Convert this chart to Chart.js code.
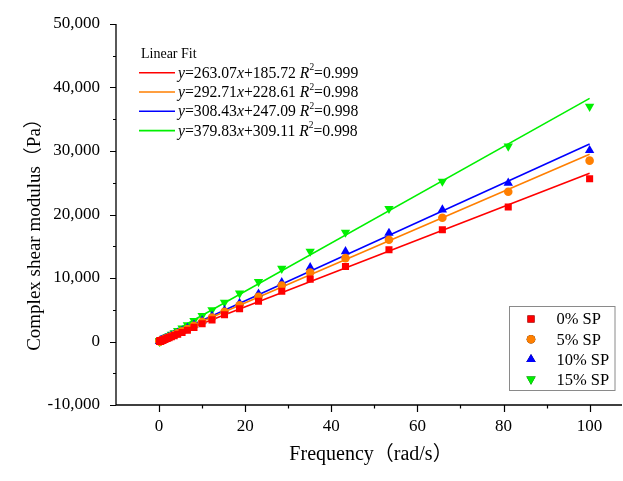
<!DOCTYPE html>
<html><head><meta charset="utf-8">
<script src="https://cdn.jsdelivr.net/npm/chart.js@4.4.1/dist/chart.umd.min.js"></script>
<style>html,body{margin:0;padding:0;background:#fff}#wrap{width:623px;height:481px;position:relative}</style>
</head><body><div id="wrap"><canvas id="c" width="623" height="481"></canvas></div>
<script>
// ---- data ----
const frequency = [0.1, 0.123, 0.152, 0.187, 0.231, 0.285, 0.351, 0.433, 0.534, 0.658, 0.811, 1.0, 1.23, 1.52, 1.87, 2.31, 2.85, 3.51, 4.33, 5.34, 6.58, 8.11, 10.0, 12.3, 15.2, 18.7, 23.1, 28.5, 35.1, 43.3, 53.4, 65.8, 81.1, 100];
const sp0  = [25, 31, 38, 47, 58, 72, 89, 110, 136, 168, 208, 258, 320, 395, 490, 605, 750, 930, 1150, 1430, 1780, 2230, 2790, 3400, 4200, 5150, 6350, 7900, 9820, 11810, 14440, 17600, 21180, 25640];
const sp5  = [28, 34, 42, 52, 64, 80, 99, 122, 151, 187, 231, 287, 356, 440, 545, 672, 835, 1035, 1280, 1590, 1980, 2480, 3100, 3780, 4670, 5720, 7050, 8800, 10860, 13130, 16020, 19490, 23590, 28480];
const sp10 = [29, 36, 44, 55, 68, 84, 104, 129, 159, 197, 244, 303, 376, 465, 575, 710, 880, 1090, 1350, 1680, 2090, 2620, 3270, 3990, 4930, 6050, 7500, 9300, 11650, 14180, 17080, 20750, 24960, 30100];
const sp15 = [35, 43, 53, 66, 82, 102, 127, 157, 195, 242, 300, 373, 463, 575, 712, 882, 1095, 1360, 1690, 2100, 2620, 3260, 4050, 4970, 6150, 7600, 9400, 11500, 14180, 17170, 20910, 25210, 30740, 37000];
const seriesNames = ['0% SP', '5% SP', '10% SP', '15% SP'];
const fitSlopes = [263.07, 292.71, 308.43, 379.83];
const fitIntercepts = [185.72, 228.61, 247.09, 309.11];
const fitSlopeText = ['263.07', '292.71', '308.43', '379.83'];
const fitInterceptText = ['185.72', '228.61', '247.09', '309.11'];
const fitR2 = ['0.999', '0.998', '0.998', '0.998'];
const fitRange = [0, 100];
const xTickValues = [0, 20, 40, 60, 80, 100];
const yTickValues = [-10000, 0, 10000, 20000, 30000, 40000, 50000];
const xMinorValues = [10, 30, 50, 70, 90];
const yMinorValues = [-5000, 5000, 15000, 25000, 35000, 45000];

// ---- styles ----
const colors = ['#ff0000', '#ff7f00', '#0000ff', '#00f000'];
const styles = [
  {pointStyle: 'rect', radius: 5, rotation: 0},
  {pointStyle: 'circle', radius: 4.3, rotation: 0},
  {pointStyle: 'triangle', radius: 5.4, rotation: 0},
  {pointStyle: 'triangle', radius: 5.4, rotation: 180}
];
const SERIF = '"Liberation Serif", "Times New Roman", "Noto Sans CJK SC", serif';

const seriesValues = [sp0, sp5, sp10, sp15];
const datasets = [];
seriesValues.forEach((vals, i) => {
  datasets.push({
    type: 'scatter', label: seriesNames[i],
    data: frequency.map((f, k) => ({x: f, y: vals[k]})),
    backgroundColor: colors[i], borderColor: colors[i], borderWidth: 0,
    pointStyle: styles[i].pointStyle, pointRadius: styles[i].radius, pointRotation: styles[i].rotation,
    pointHoverRadius: styles[i].radius, order: 0
  });
});
seriesValues.forEach((vals, i) => {
  datasets.push({
    type: 'line', label: 'fit ' + seriesNames[i],
    data: fitRange.map(x => ({x: x, y: fitSlopes[i] * x + fitIntercepts[i]})),
    borderColor: colors[i], borderWidth: 1.6, pointRadius: 0, fill: false, order: 1
  });
});

function drawStyledText(ctx, parts, x, y, size) {
  let cx = x;
  parts.forEach(p => {
    const s = p.sup ? size * 0.6 : size;
    ctx.font = (p.it ? 'italic ' : '') + s + 'px ' + SERIF;
    const yy = p.sup ? y - size * 0.38 : y;
    ctx.fillText(p.t, cx, yy);
    cx += ctx.measureText(p.t).width;
  });
}

const decor = {
  id: 'decor',
  afterDraw(chart) {
    const ctx = chart.ctx, a = chart.chartArea;
    const xs = chart.scales.x, ys = chart.scales.y;
    ctx.save();
    ctx.strokeStyle = '#000'; ctx.lineWidth = 1.3;
    // axes
    ctx.beginPath();
    ctx.moveTo(a.left, a.top); ctx.lineTo(a.left, a.bottom);
    ctx.moveTo(a.left, a.bottom); ctx.lineTo(622, a.bottom);
    ctx.stroke();
    ctx.lineWidth = 1.2;
    ctx.beginPath();
    yTickValues.forEach(v => { const p = Math.round(ys.getPixelForValue(v)) + 0.5; ctx.moveTo(a.left - 6, p); ctx.lineTo(a.left, p); });
    yMinorValues.forEach(v => { const p = Math.round(ys.getPixelForValue(v)) + 0.5; ctx.moveTo(a.left - 3, p); ctx.lineTo(a.left, p); });
    xTickValues.forEach(v => { const p = Math.round(xs.getPixelForValue(v)) + 0.5; ctx.moveTo(p, a.bottom); ctx.lineTo(p, a.bottom + 7); });
    xMinorValues.forEach(v => { const p = Math.round(xs.getPixelForValue(v)) + 0.5; ctx.moveTo(p, a.bottom); ctx.lineTo(p, a.bottom + 3.5); });
    ctx.stroke();

    // axis titles
    ctx.fillStyle = '#000';
    ctx.textBaseline = 'middle'; ctx.textAlign = 'center';
    ctx.font = '20px ' + SERIF;
    ctx.fillText('Frequency（rad/s）', 371, 455);
    ctx.save();
    ctx.translate(35, 230); ctx.rotate(-Math.PI / 2);
    ctx.font = '19px ' + SERIF;
    ctx.fillText('Complex shear modulus（Pa）', 0, 0);
    ctx.restore();

    // fit legend
    ctx.textAlign = 'left'; ctx.textBaseline = 'middle';
    ctx.font = '14px ' + SERIF;
    ctx.fillText('Linear Fit', 141, 54);
    const rowY = [72.7, 92, 111.3, 130.6];
    for (let i = 0; i < 4; i++) {
      ctx.strokeStyle = colors[i]; ctx.lineWidth = 1.6;
      ctx.beginPath(); ctx.moveTo(139, rowY[i]); ctx.lineTo(175, rowY[i]); ctx.stroke();
      drawStyledText(ctx, [
        {t: 'y', it: true}, {t: '=' + fitSlopeText[i]}, {t: 'x', it: true},
        {t: '+' + fitInterceptText[i] + ' '}, {t: 'R', it: true}, {t: '2', sup: true}, {t: '=' + fitR2[i]}
      ], 178, rowY[i] + 1, 15.7);
    }

    // marker legend
    ctx.strokeStyle = '#8a8a8a'; ctx.lineWidth = 1;
    ctx.strokeRect(509.5, 306.5, 105.5, 84);
    const lgY = [319, 339.3, 359.3, 379.3];
    for (let i = 0; i < 4; i++) {
      Chart.helpers.drawPoint(ctx, {pointStyle: styles[i].pointStyle, radius: styles[i].radius, rotation: styles[i].rotation, borderWidth: 0}, 531, lgY[i]);
      ctx.fillStyle = colors[i]; ctx.fill();
      ctx.fillStyle = '#000';
      ctx.font = '16.5px ' + SERIF;
      ctx.fillText(seriesNames[i], 556.5, lgY[i] + 1);
    }
    ctx.restore();
  }
};

new Chart(document.getElementById('c'), {
  type: 'scatter',
  data: {datasets},
  options: {
    responsive: false, animation: false, devicePixelRatio: 1,
    layout: {padding: {top: 24, right: 1, left: 0, bottom: 0}},
    plugins: {legend: {display: false}, tooltip: {enabled: false}},
    scales: {
      x: {
        type: 'linear', min: -10, max: 106.5,
        grid: {display: false}, border: {display: false},
        afterFit(s) { s.height = 76; s.paddingLeft = 0; s.paddingRight = 0; },
        afterBuildTicks(s) { s.ticks = xTickValues.map(v => ({value: v})); },
        ticks: {color: '#000', padding: 3, maxRotation: 0, autoSkip: false, font: {family: SERIF, size: 17}}
      },
      y: {
        type: 'linear', min: -10000, max: 50000,
        grid: {display: false}, border: {display: false},
        afterFit(s) { s.width = 116; s.paddingTop = 0; s.paddingBottom = 0; },
        afterBuildTicks(s) { s.ticks = yTickValues.map(v => ({value: v})); },
        ticks: {color: '#000', padding: 8, autoSkip: false, font: {family: SERIF, size: 17},
          callback: v => v.toLocaleString('en-US')}
      }
    }
  },
  plugins: [decor]
});
</script></body></html>
